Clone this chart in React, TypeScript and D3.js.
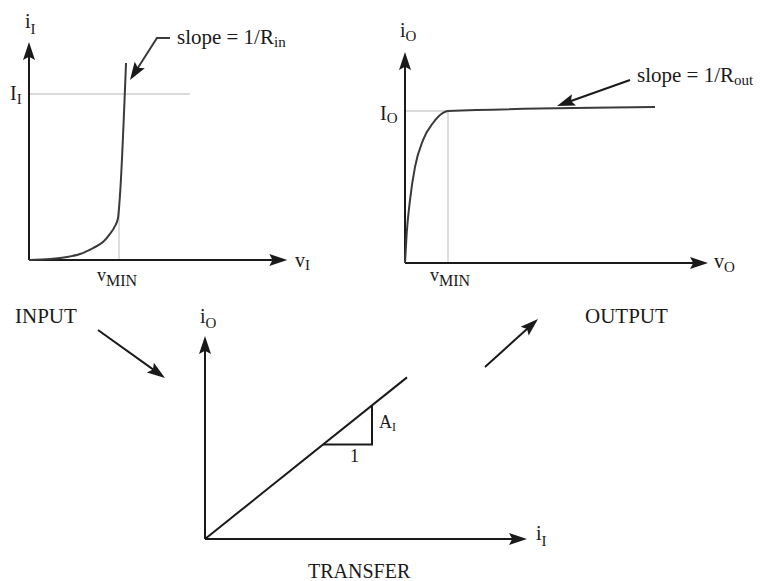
import React from "react";
import * as d3 from "d3";

// Input characteristic: i_I versus v_I (v in units of V_MIN, i in units of I_I)
const inputV = [0, 0.233, 0.422, 0.567, 0.711, 0.822, 0.9, 0.956, 0.989, 1.011, 1.078];
const inputI = [0, 0.006, 0.018, 0.036, 0.072, 0.108, 0.157, 0.205, 0.253, 0.392, 1.187];
const inputVMin = 1.0;
const inputIRef = 1.0;
const inputIRefEnd = 1.789;

// Output characteristic: i_O versus v_O (v in units of V_MIN, i in units of I_O)
const outputV = [0, 0.04, 0.116, 0.233, 0.419, 0.651, 0.884, 1.0, 5.814];
const outputI = [0, 0.197, 0.414, 0.632, 0.809, 0.921, 0.987, 1.0, 1.026];
const outputVMin = 1.0;
const outputIRef = 1.0;

// Transfer characteristic: i_O = A_I * i_I
const transferGain = 0.8;
const transferInputMax = 2.02;
const slopeRun = [1.18, 1.67];

const panelTitles = ["INPUT", "OUTPUT", "TRANSFER"];

const FONT = "'Liberation Serif', 'Times New Roman', Times, serif";
const INK = "#1a1a1a";
const CURVE = "#3a3a3a";
const GUIDE = "#cfcfcf";

type Pt = [number, number];

function arrowHead(from: Pt, tip: Pt, len: number, half: number): string {
  const dx = tip[0] - from[0];
  const dy = tip[1] - from[1];
  const d = Math.hypot(dx, dy) || 1;
  const ux = dx / d, uy = dy / d;
  const bx = tip[0] - ux * len, by = tip[1] - uy * len;
  const nx = -uy, ny = ux;
  const notchX = tip[0] - ux * len * 0.82, notchY = tip[1] - uy * len * 0.82;
  return [
    [tip[0], tip[1]],
    [bx + nx * half, by + ny * half],
    [notchX, notchY],
    [bx - nx * half, by - ny * half],
  ]
    .map((p) => p.join(","))
    .join(" ");
}

function shaft(from: Pt, tip: Pt, len: number): Pt {
  const dx = tip[0] - from[0];
  const dy = tip[1] - from[1];
  const d = Math.hypot(dx, dy) || 1;
  return [tip[0] - (dx / d) * len * 0.7, tip[1] - (dy / d) * len * 0.7];
}

function Arrow({ from, tip, len = 16, half = 5.5, width = 2, color = INK }: { from: Pt; tip: Pt; len?: number; half?: number; width?: number; color?: string }) {
  const end = shaft(from, tip, len);
  return (
    <g>
      <line x1={from[0]} y1={from[1]} x2={end[0]} y2={end[1]} stroke={color} strokeWidth={width} />
      <polygon points={arrowHead(from, tip, len, half)} fill={color} />
    </g>
  );
}

function Label({ x, y, main, sub, size = 20, subSize = 15, subDx = 0, subDy = 4, anchor = "start" }: { x: number; y: number; main: string; sub?: string; size?: number; subSize?: number; subDx?: number; subDy?: number; anchor?: string }) {
  return (
    <text x={x} y={y} fontFamily={FONT} fontSize={size} fill={INK} textAnchor={anchor as any}>
      {main}
      {sub ? (
        <tspan dx={subDx} dy={subDy} fontSize={subSize}>
          {sub}
        </tspan>
      ) : null}
    </text>
  );
}

export default function App() {
  // ---------- INPUT panel ----------
  const ix = d3.scaleLinear().domain([0, 1]).range([29, 119]);
  const iy = d3.scaleLinear().domain([0, 1]).range([260, 94]);
  const inputXMax = 2.87;
  const inputYMax = 1.313;
  const inputPts: Pt[] = inputV.map((v, k) => [ix(v), iy(inputI[k])]);
  const inputLine = d3.line<Pt>().x((d) => d[0]).y((d) => d[1]).curve(d3.curveMonotoneX)(inputPts) || "";
  // knee height of the input curve at V_MIN
  const kneeI = d3.scaleLinear().domain(inputV).range(inputI)(inputVMin);

  // ---------- OUTPUT panel ----------
  const ox = d3.scaleLinear().domain([0, 1]).range([405, 448]);
  const oy = d3.scaleLinear().domain([0, 1]).range([263, 111]);
  const outputXMax = 7.047;
  const outputYMax = 1.388;
  const outputPts: Pt[] = outputV.map((v, k) => [ox(v), oy(outputI[k])]);
  const outputLine = d3.line<Pt>().x((d) => d[0]).y((d) => d[1]).curve(d3.curveMonotoneX)(outputPts) || "";

  // ---------- TRANSFER panel ----------
  const tx = d3.scaleLinear().domain([0, 1]).range([205, 305]);
  const ty = d3.scaleLinear().domain([0, 1]).range([539, 439]);
  const transferXMax = 3.22;
  const transferYMax = 2.03;
  const transferLine =
    d3.line<number>().x((d) => tx(d)).y((d) => ty(d * transferGain))([0, transferInputMax]) || "";
  const [r0, r1] = slopeRun;
  const triPath =
    d3.line<Pt>()([
      [tx(r0), ty(r0 * transferGain)],
      [tx(r1), ty(r0 * transferGain)],
      [tx(r1), ty(r1 * transferGain)],
    ]) || "";

  const axisLen = 18;
  const axisHalf = 6;

  return (
    <div style={{ position: "absolute", left: 0, top: 0 }}>
      <svg width={760} height={581} viewBox="0 0 760 581" style={{ display: "block", background: "#fff" }}>
        {/* INPUT characteristic */}
        <g>
          <line x1={ix(0)} y1={iy(inputIRef)} x2={ix(inputIRefEnd)} y2={iy(inputIRef)} stroke={GUIDE} strokeWidth={1.6} />
          <line x1={ix(inputVMin)} y1={iy(0)} x2={ix(inputVMin)} y2={iy(kneeI)} stroke={GUIDE} strokeWidth={1.4} />
          <Arrow from={[ix(0), iy(0)]} tip={[ix(0), iy(inputYMax)]} len={axisLen} half={axisHalf} />
          <Arrow from={[ix(0), iy(0)]} tip={[ix(inputXMax), iy(0)]} len={axisLen} half={axisHalf} />
          <path d={inputLine} fill="none" stroke={CURVE} strokeWidth={2} />
          <Label x={25} y={28} main="i" sub="I" subDy={6} />
          <Label x={10} y={100} main="I" sub="I" subDy={4} />
          <Label x={97} y={281} main="v" sub="MIN" size={18} subSize={16} subDy={5} />
          <Label x={295} y={267} main="v" sub="I" subDy={3} />
          {/* slope annotation */}
          <polyline
            points={[
              [ix(1.567), iy(1.337)],
              [ix(1.422), iy(1.337)],
              shaft([ix(1.422), iy(1.337)], [ix(1.122), iy(1.084)], 18),
            ]
              .map((p) => p.join(","))
              .join(" ")}
            fill="none"
            stroke={CURVE}
            strokeWidth={2}
          />
          <polygon points={arrowHead([ix(1.422), iy(1.337)], [ix(1.122), iy(1.084)], 18, 6)} fill={INK} />
          <Label x={ix(1.644)} y={44} main="slope = 1/R" sub="in" size={21} subSize={15} subDy={3} />
        </g>

        {/* OUTPUT characteristic */}
        <g>
          <line x1={ox(0)} y1={oy(outputIRef)} x2={ox(outputVMin)} y2={oy(outputIRef)} stroke={GUIDE} strokeWidth={1.4} />
          <line x1={ox(outputVMin)} y1={oy(0)} x2={ox(outputVMin)} y2={oy(outputIRef)} stroke={GUIDE} strokeWidth={1.4} />
          <Arrow from={[ox(0), oy(0)]} tip={[ox(0), oy(outputYMax)]} len={axisLen} half={axisHalf} />
          <Arrow from={[ox(0), oy(0)]} tip={[ox(outputXMax), oy(0)]} len={axisLen} half={axisHalf} />
          <path d={outputLine} fill="none" stroke={CURVE} strokeWidth={2} />
          <Label x={400} y={37} main="i" sub="O" subDy={4} />
          <Label x={380} y={120} main="I" sub="O" subDy={3} />
          <Label x={430} y={281} main="v" sub="MIN" size={18} subSize={16} subDy={5} />
          <Label x={714} y={268} main="v" sub="O" subDy={4} />
          <Arrow from={[ox(5.233), oy(1.204)]} tip={[ox(3.535), oy(1.033)]} len={18} half={6} />
          <Label x={ox(5.395)} y={82} main="slope = 1/R" sub="out" size={21} subSize={15} subDy={3} />
        </g>

        {/* TRANSFER characteristic */}
        <g>
          <Arrow from={[tx(0), ty(0)]} tip={[tx(0), ty(transferYMax)]} len={axisLen} half={axisHalf} />
          <Arrow from={[tx(0), ty(0)]} tip={[tx(transferXMax), ty(0)]} len={axisLen} half={axisHalf} />
          <path d={transferLine} fill="none" stroke={INK} strokeWidth={2} />
          <path d={triPath} fill="none" stroke={INK} strokeWidth={2} />
          <Label x={200} y={323} main="i" sub="O" subDy={5} />
          <Label x={536} y={540} main="i" sub="I" subDy={6} />
          <Label x={379} y={428} main="A" sub="I" size={18} subSize={12} subDy={3} />
          <Label x={350} y={462} main="1" size={18} />
        </g>

        {/* panel titles and flow arrows */}
        <Label x={15} y={323} main={panelTitles[0]} size={21} />
        <Label x={585} y={323} main={panelTitles[1]} size={21} />
        <Label x={308} y={578} main={panelTitles[2]} size={20} />
        <Arrow from={[98, 330]} tip={[165, 378]} len={18} half={6} />
        <Arrow from={[485, 367]} tip={[538, 319]} len={18} half={6} />
      </svg>
    </div>
  );
}
